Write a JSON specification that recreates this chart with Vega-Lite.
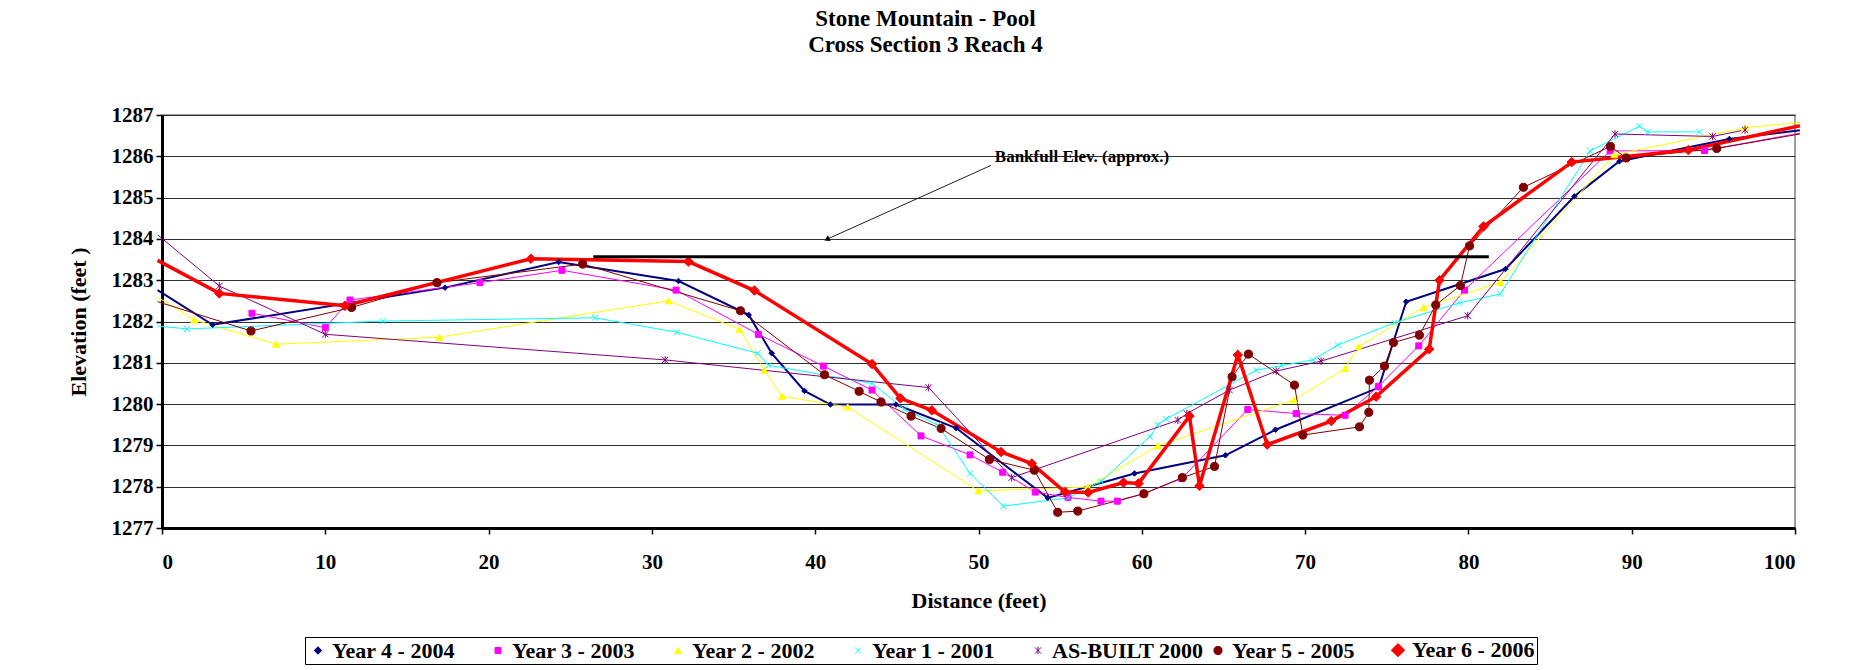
{
  "$schema": "https://vega.github.io/schema/vega-lite/v6.json",
  "autosize": "none",
  "width": 1633,
  "height": 413,
  "padding": {"left": 162, "top": 115, "right": 56, "bottom": 142},
  "background": "white",
  "title": {
    "text": ["Stone Mountain - Pool", "Cross Section 3 Reach 4"],
    "font": "Liberation Serif", "fontSize": 23, "fontWeight": "bold", "color": "black",
    "anchor": "middle", "frame": "group", "dx": -53, "offset": 47, "lineHeight": 26
  },
  "config": {
    "font": "Liberation Serif",
    "view": {"stroke": "#808080", "strokeWidth": 1.5},
    "axis": {
      "labelFont": "Liberation Serif", "labelFontWeight": "bold", "labelFontSize": 21, "labelColor": "black",
      "titleFont": "Liberation Serif", "titleFontWeight": "bold", "titleFontSize": 22, "titleColor": "black",
      "domainColor": "black", "domainWidth": 3, "tickColor": "black", "tickWidth": 1.5, "tickSize": 6
    }
  },
  "datasets": {
    "profiles": [
      {"series": "Year 4 - 2004", "x": -0.27, "y": 1282.76},
      {"series": "Year 4 - 2004", "x": 3.1, "y": 1281.92},
      {"series": "Year 4 - 2004", "x": 17.33, "y": 1282.82},
      {"series": "Year 4 - 2004", "x": 24.29, "y": 1283.44},
      {"series": "Year 4 - 2004", "x": 31.63, "y": 1282.98},
      {"series": "Year 4 - 2004", "x": 35.93, "y": 1282.16},
      {"series": "Year 4 - 2004", "x": 37.34, "y": 1281.23},
      {"series": "Year 4 - 2004", "x": 39.34, "y": 1280.32},
      {"series": "Year 4 - 2004", "x": 40.93, "y": 1279.99},
      {"series": "Year 4 - 2004", "x": 44.95, "y": 1279.99},
      {"series": "Year 4 - 2004", "x": 48.63, "y": 1279.42},
      {"series": "Year 4 - 2004", "x": 54.24, "y": 1277.73},
      {"series": "Year 4 - 2004", "x": 59.55, "y": 1278.32},
      {"series": "Year 4 - 2004", "x": 65.12, "y": 1278.76},
      {"series": "Year 4 - 2004", "x": 68.19, "y": 1279.38},
      {"series": "Year 4 - 2004", "x": 74.51, "y": 1280.4},
      {"series": "Year 4 - 2004", "x": 76.19, "y": 1282.48},
      {"series": "Year 4 - 2004", "x": 82.27, "y": 1283.27},
      {"series": "Year 4 - 2004", "x": 86.49, "y": 1285.03},
      {"series": "Year 4 - 2004", "x": 89.25, "y": 1285.88},
      {"series": "Year 4 - 2004", "x": 95.98, "y": 1286.42},
      {"series": "Year 4 - 2004", "x": 100.3, "y": 1286.63},

      {"series": "Year 3 - 2003", "x": 5.51, "y": 1282.2},
      {"series": "Year 3 - 2003", "x": 10.0, "y": 1281.85},
      {"series": "Year 3 - 2003", "x": 11.51, "y": 1282.52},
      {"series": "Year 3 - 2003", "x": 19.47, "y": 1282.94},
      {"series": "Year 3 - 2003", "x": 24.49, "y": 1283.24},
      {"series": "Year 3 - 2003", "x": 31.48, "y": 1282.76},
      {"series": "Year 3 - 2003", "x": 36.52, "y": 1281.69},
      {"series": "Year 3 - 2003", "x": 40.5, "y": 1280.92},
      {"series": "Year 3 - 2003", "x": 43.48, "y": 1280.34},
      {"series": "Year 3 - 2003", "x": 46.48, "y": 1279.23},
      {"series": "Year 3 - 2003", "x": 49.48, "y": 1278.77},
      {"series": "Year 3 - 2003", "x": 51.48, "y": 1278.35},
      {"series": "Year 3 - 2003", "x": 53.48, "y": 1277.87},
      {"series": "Year 3 - 2003", "x": 55.48, "y": 1277.74},
      {"series": "Year 3 - 2003", "x": 57.5, "y": 1277.65},
      {"series": "Year 3 - 2003", "x": 58.5, "y": 1277.65},
      {"series": "Year 3 - 2003", "x": 60.1, "y": 1277.83},
      {"series": "Year 3 - 2003", "x": 62.45, "y": 1278.2},
      {"series": "Year 3 - 2003", "x": 66.49, "y": 1279.87},
      {"series": "Year 3 - 2003", "x": 69.45, "y": 1279.77},
      {"series": "Year 3 - 2003", "x": 72.45, "y": 1279.73},
      {"series": "Year 3 - 2003", "x": 74.49, "y": 1280.43},
      {"series": "Year 3 - 2003", "x": 76.96, "y": 1281.41},
      {"series": "Year 3 - 2003", "x": 79.76, "y": 1282.76},
      {"series": "Year 3 - 2003", "x": 88.68, "y": 1286.13},
      {"series": "Year 3 - 2003", "x": 94.46, "y": 1286.14},
      {"series": "Year 3 - 2003", "x": 100.3, "y": 1286.56},

      {"series": "Year 2 - 2002", "x": -0.27, "y": 1282.59},
      {"series": "Year 2 - 2002", "x": 1.98, "y": 1282.04},
      {"series": "Year 2 - 2002", "x": 6.98, "y": 1281.45},
      {"series": "Year 2 - 2002", "x": 16.98, "y": 1281.62},
      {"series": "Year 2 - 2002", "x": 31.01, "y": 1282.5},
      {"series": "Year 2 - 2002", "x": 35.36, "y": 1281.81},
      {"series": "Year 2 - 2002", "x": 36.89, "y": 1280.82},
      {"series": "Year 2 - 2002", "x": 37.97, "y": 1280.19},
      {"series": "Year 2 - 2002", "x": 41.99, "y": 1279.93},
      {"series": "Year 2 - 2002", "x": 49.99, "y": 1277.9},
      {"series": "Year 2 - 2002", "x": 56.69, "y": 1277.99},
      {"series": "Year 2 - 2002", "x": 60.98, "y": 1278.99},
      {"series": "Year 2 - 2002", "x": 69.31, "y": 1280.1},
      {"series": "Year 2 - 2002", "x": 72.45, "y": 1280.86},
      {"series": "Year 2 - 2002", "x": 73.27, "y": 1281.39},
      {"series": "Year 2 - 2002", "x": 77.25, "y": 1282.34},
      {"series": "Year 2 - 2002", "x": 81.96, "y": 1282.95},
      {"series": "Year 2 - 2002", "x": 88.94, "y": 1286.04},
      {"series": "Year 2 - 2002", "x": 96.94, "y": 1286.69},
      {"series": "Year 2 - 2002", "x": 100.3, "y": 1286.82},

      {"series": "Year 1 -  2001", "x": -0.27, "y": 1281.89},
      {"series": "Year 1 -  2001", "x": 1.53, "y": 1281.82},
      {"series": "Year 1 -  2001", "x": 13.51, "y": 1282.01},
      {"series": "Year 1 -  2001", "x": 26.51, "y": 1282.09},
      {"series": "Year 1 -  2001", "x": 31.52, "y": 1281.74},
      {"series": "Year 1 -  2001", "x": 36.48, "y": 1281.23},
      {"series": "Year 1 -  2001", "x": 37.14, "y": 1280.94},
      {"series": "Year 1 -  2001", "x": 43.48, "y": 1280.5},
      {"series": "Year 1 -  2001", "x": 45.46, "y": 1279.88},
      {"series": "Year 1 -  2001", "x": 47.5, "y": 1279.49},
      {"series": "Year 1 -  2001", "x": 49.48, "y": 1278.32},
      {"series": "Year 1 -  2001", "x": 51.52, "y": 1277.53},
      {"series": "Year 1 -  2001", "x": 55.5, "y": 1277.73},
      {"series": "Year 1 -  2001", "x": 57.51, "y": 1278.13},
      {"series": "Year 1 -  2001", "x": 60.5, "y": 1279.21},
      {"series": "Year 1 -  2001", "x": 60.98, "y": 1279.5},
      {"series": "Year 1 -  2001", "x": 61.49, "y": 1279.64},
      {"series": "Year 1 -  2001", "x": 67.0, "y": 1280.82},
      {"series": "Year 1 -  2001", "x": 68.54, "y": 1280.93},
      {"series": "Year 1 -  2001", "x": 70.47, "y": 1281.07},
      {"series": "Year 1 -  2001", "x": 72.0, "y": 1281.43},
      {"series": "Year 1 -  2001", "x": 75.47, "y": 1281.97},
      {"series": "Year 1 -  2001", "x": 79.45, "y": 1282.45},
      {"series": "Year 1 -  2001", "x": 81.96, "y": 1282.67},
      {"series": "Year 1 -  2001", "x": 87.45, "y": 1286.13},
      {"series": "Year 1 -  2001", "x": 90.47, "y": 1286.73},
      {"series": "Year 1 -  2001", "x": 90.98, "y": 1286.59},
      {"series": "Year 1 -  2001", "x": 94.15, "y": 1286.59},

      {"series": "AS-BUILT 2000", "x": -0.27, "y": 1284.1},
      {"series": "AS-BUILT 2000", "x": 3.51, "y": 1282.86},
      {"series": "AS-BUILT 2000", "x": 10.0, "y": 1281.69},
      {"series": "AS-BUILT 2000", "x": 30.81, "y": 1281.07},
      {"series": "AS-BUILT 2000", "x": 46.95, "y": 1280.4},
      {"series": "AS-BUILT 2000", "x": 52.03, "y": 1278.22},
      {"series": "AS-BUILT 2000", "x": 62.21, "y": 1279.61},
      {"series": "AS-BUILT 2000", "x": 62.76, "y": 1279.77},
      {"series": "AS-BUILT 2000", "x": 65.37, "y": 1280.34},
      {"series": "AS-BUILT 2000", "x": 68.23, "y": 1280.8},
      {"series": "AS-BUILT 2000", "x": 70.98, "y": 1281.04},
      {"series": "AS-BUILT 2000", "x": 79.96, "y": 1282.14},
      {"series": "AS-BUILT 2000", "x": 88.98, "y": 1286.54},
      {"series": "AS-BUILT 2000", "x": 94.96, "y": 1286.48},
      {"series": "AS-BUILT 2000", "x": 96.94, "y": 1286.64},

      {"series": "Year 5 - 2005", "x": -0.27, "y": 1282.48},
      {"series": "Year 5 - 2005", "x": 5.45, "y": 1281.77},
      {"series": "Year 5 - 2005", "x": 11.61, "y": 1282.34},
      {"series": "Year 5 - 2005", "x": 16.84, "y": 1282.94},
      {"series": "Year 5 - 2005", "x": 25.76, "y": 1283.39},
      {"series": "Year 5 - 2005", "x": 35.42, "y": 1282.26},
      {"series": "Year 5 - 2005", "x": 40.57, "y": 1280.71},
      {"series": "Year 5 - 2005", "x": 42.69, "y": 1280.31},
      {"series": "Year 5 - 2005", "x": 44.03, "y": 1280.05},
      {"series": "Year 5 - 2005", "x": 45.87, "y": 1279.71},
      {"series": "Year 5 - 2005", "x": 47.71, "y": 1279.41},
      {"series": "Year 5 - 2005", "x": 50.67, "y": 1278.66},
      {"series": "Year 5 - 2005", "x": 53.42, "y": 1278.4},
      {"series": "Year 5 - 2005", "x": 54.85, "y": 1277.38},
      {"series": "Year 5 - 2005", "x": 56.08, "y": 1277.41},
      {"series": "Year 5 - 2005", "x": 60.13, "y": 1277.83},
      {"series": "Year 5 - 2005", "x": 62.49, "y": 1278.22},
      {"series": "Year 5 - 2005", "x": 64.45, "y": 1278.49},
      {"series": "Year 5 - 2005", "x": 65.53, "y": 1280.66},
      {"series": "Year 5 - 2005", "x": 66.53, "y": 1281.21},
      {"series": "Year 5 - 2005", "x": 69.35, "y": 1280.46},
      {"series": "Year 5 - 2005", "x": 69.86, "y": 1279.25},
      {"series": "Year 5 - 2005", "x": 73.33, "y": 1279.45},
      {"series": "Year 5 - 2005", "x": 73.9, "y": 1279.8},
      {"series": "Year 5 - 2005", "x": 73.94, "y": 1280.58},
      {"series": "Year 5 - 2005", "x": 74.86, "y": 1280.92},
      {"series": "Year 5 - 2005", "x": 75.41, "y": 1281.49},
      {"series": "Year 5 - 2005", "x": 77.0, "y": 1281.67},
      {"series": "Year 5 - 2005", "x": 78.0, "y": 1282.4},
      {"series": "Year 5 - 2005", "x": 79.51, "y": 1282.87},
      {"series": "Year 5 - 2005", "x": 80.07, "y": 1283.83},
      {"series": "Year 5 - 2005", "x": 83.37, "y": 1285.25},
      {"series": "Year 5 - 2005", "x": 88.7, "y": 1286.24},
      {"series": "Year 5 - 2005", "x": 89.66, "y": 1285.96},
      {"series": "Year 5 - 2005", "x": 95.21, "y": 1286.19},
      {"series": "Year 5 - 2005", "x": 100.3, "y": 1286.54},

      {"series": "Year 6 - 2006", "x": -0.27, "y": 1283.48},
      {"series": "Year 6 - 2006", "x": 3.51, "y": 1282.68},
      {"series": "Year 6 - 2006", "x": 11.2, "y": 1282.38},
      {"series": "Year 6 - 2006", "x": 22.59, "y": 1283.52},
      {"series": "Year 6 - 2006", "x": 32.24, "y": 1283.45},
      {"series": "Year 6 - 2006", "x": 36.28, "y": 1282.75},
      {"series": "Year 6 - 2006", "x": 43.48, "y": 1280.97},
      {"series": "Year 6 - 2006", "x": 45.22, "y": 1280.14},
      {"series": "Year 6 - 2006", "x": 47.14, "y": 1279.85},
      {"series": "Year 6 - 2006", "x": 51.38, "y": 1278.84},
      {"series": "Year 6 - 2006", "x": 53.26, "y": 1278.56},
      {"series": "Year 6 - 2006", "x": 55.3, "y": 1277.87},
      {"series": "Year 6 - 2006", "x": 56.72, "y": 1277.86},
      {"series": "Year 6 - 2006", "x": 58.88, "y": 1278.1},
      {"series": "Year 6 - 2006", "x": 59.8, "y": 1278.08},
      {"series": "Year 6 - 2006", "x": 62.92, "y": 1279.71},
      {"series": "Year 6 - 2006", "x": 63.53, "y": 1278.02},
      {"series": "Year 6 - 2006", "x": 65.88, "y": 1281.19},
      {"series": "Year 6 - 2006", "x": 67.68, "y": 1279.02},
      {"series": "Year 6 - 2006", "x": 71.6, "y": 1279.59},
      {"series": "Year 6 - 2006", "x": 74.35, "y": 1280.18},
      {"series": "Year 6 - 2006", "x": 77.6, "y": 1281.33},
      {"series": "Year 6 - 2006", "x": 78.23, "y": 1283.0},
      {"series": "Year 6 - 2006", "x": 80.92, "y": 1284.3},
      {"series": "Year 6 - 2006", "x": 86.33, "y": 1285.86},
      {"series": "Year 6 - 2006", "x": 93.47, "y": 1286.15},
      {"series": "Year 6 - 2006", "x": 100.3, "y": 1286.74}
    ],
    "bankfull": [{"x": 26.41, "x2": 81.25, "y": 1283.57}],
    "arrow": [{"x": 50.77, "y": 1285.78, "x2": 40.71, "y2": 1283.99}],
    "arrowhead": [{"x": 40.71, "y": 1283.99}],
    "note": [{"x": 51.0, "y": 1285.98, "text": "Bankfull Elev. (approx.)"}]
  },
  "encoding": {
    "x": {
      "field": "x", "type": "quantitative",
      "scale": {"domain": [0, 100], "nice": false, "zero": false},
      "axis": {"title": "Distance (feet)", "values": [0, 10, 20, 30, 40, 50, 60, 70, 80, 90, 100], "grid": false, "labelPadding": 17, "titlePadding": 18}
    },
    "y": {
      "field": "y", "type": "quantitative",
      "scale": {"domain": [1277, 1287], "nice": false, "zero": false},
      "axis": {"title": "Elevation (feet )", "values": [1277, 1278, 1279, 1280, 1281, 1282, 1283, 1284, 1285, 1286, 1287], "format": "d", "grid": true, "gridColor": "#303030", "gridWidth": 1, "labelPadding": 3, "titlePadding": 21}
    }
  },
  "layer": [
    {
      "data": {"name": "profiles"},
      "mark": {"type": "line"},
      "encoding": {
        "color": {
          "field": "series", "type": "nominal",
          "scale": {
            "domain": ["Year 4 - 2004", "Year 3 - 2003", "Year 2 - 2002", "Year 1 -  2001", "AS-BUILT 2000", "Year 5 - 2005", "Year 6 - 2006"],
            "range": ["#000080", "#FF00FF", "#FFFF00", "#00FFFF", "#800080", "#800000", "#FF0000"]
          },
          "legend": {
            "orient": "none", "legendX": 143, "legendY": 522, "direction": "horizontal", "title": null,
            "labelFont": "Liberation Serif", "labelFontWeight": "bold", "labelFontSize": 22, "labelColor": "black",
            "symbolSize": 360, "symbolStrokeWidth": 1, "strokeColor": "black", "fillColor": "white",
            "padding": 2, "columnPadding": 2, "labelOffset": 3, "gridAlign": "all",
            "encode": {
              "symbols": {
                "update": {
                  "shape": {"signal": "['M-1,-0.1L1,-0.1L1,0.1L-1,0.1ZM0,-0.32L0.32,0L0,0.32L-0.32,0Z','M-1,-0.06L1,-0.06L1,0.06L-1,0.06ZM-0.28,-0.28L0.28,-0.28L0.28,0.28L-0.28,0.28Z','M-1,-0.06L1,-0.06L1,0.06L-1,0.06ZM0,-0.35L0.35,0.28L-0.35,0.28Z','M-1,-0.06L1,-0.06L1,0.06L-1,0.06ZM-0.3,-0.3L0.3,0.3M-0.3,0.3L0.3,-0.3','M-1,-0.06L1,-0.06L1,0.06L-1,0.06ZM-0.3,-0.3L0.3,0.3M-0.3,0.3L0.3,-0.3M0,-0.4L0,0.4','M-1,-0.06L1,-0.06L1,0.06L-1,0.06ZM0.32,0A0.32,0.32,0,1,1,-0.32,0A0.32,0.32,0,1,1,0.32,0Z','M-1,-0.17L1,-0.17L1,0.17L-1,0.17ZM0,-0.45L0.45,0L0,0.45L-0.45,0Z'][indexof(['Year 4 - 2004','Year 3 - 2003','Year 2 - 2002','Year 1 -  2001','AS-BUILT 2000','Year 5 - 2005','Year 6 - 2006'], datum.value)]"},
                  "size": {"value": 360},
                  "fill": {"scale": "color", "field": "value"},
                  "fillOpacity": {"value": 1},
                  "stroke": {"scale": "color", "field": "value"},
                  "strokeOpacity": {"value": 1},
                  "strokeWidth": {"value": 1}
                }
              }
            }
          }
        },
        "strokeWidth": {
          "field": "series", "type": "nominal",
          "scale": {
            "type": "ordinal",
            "domain": ["Year 4 - 2004", "Year 3 - 2003", "Year 2 - 2002", "Year 1 -  2001", "AS-BUILT 2000", "Year 5 - 2005", "Year 6 - 2006"],
            "range": [2, 1, 1, 1, 1, 1, 3.5]
          },
          "legend": null
        }
      }
    },
    {
      "data": {"name": "profiles"},
      "transform": [{"filter": "datum.x >= 0 && datum.x <= 100"}],
      "mark": {"type": "point", "filled": true, "opacity": 1, "strokeWidth": 1},
      "encoding": {
        "fill": {
          "field": "series", "type": "nominal",
          "scale": {
            "domain": ["Year 4 - 2004", "Year 3 - 2003", "Year 2 - 2002", "Year 1 -  2001", "AS-BUILT 2000", "Year 5 - 2005", "Year 6 - 2006"],
            "range": ["#000080", "#FF00FF", "#FFFF00", "#00FFFF", "#800080", "#800000", "#FF0000"]
          },
          "legend": null
        },
        "stroke": {
          "field": "series", "type": "nominal",
          "scale": {
            "domain": ["Year 4 - 2004", "Year 3 - 2003", "Year 2 - 2002", "Year 1 -  2001", "AS-BUILT 2000", "Year 5 - 2005", "Year 6 - 2006"],
            "range": ["#000080", "#FF00FF", "#FFFF00", "#00FFFF", "#800080", "#800000", "#FF0000"]
          },
          "legend": null
        },
        "shape": {
          "field": "series", "type": "nominal",
          "scale": {
            "domain": ["Year 4 - 2004", "Year 3 - 2003", "Year 2 - 2002", "Year 1 -  2001", "AS-BUILT 2000", "Year 5 - 2005", "Year 6 - 2006"],
            "range": ["diamond", "square", "triangle-up", "M-1,-1L1,1M-1,1L1,-1", "M-1,-1L1,1M-1,1L1,-1M0,-1.2L0,1.2", "circle", "diamond"]
          },
          "legend": null
        },
        "size": {
          "field": "series", "type": "nominal",
          "scale": {
            "type": "ordinal",
            "domain": ["Year 4 - 2004", "Year 3 - 2003", "Year 2 - 2002", "Year 1 -  2001", "AS-BUILT 2000", "Year 5 - 2005", "Year 6 - 2006"],
            "range": [30, 36, 49, 36, 40, 66, 90]
          },
          "legend": null
        }
      }
    },
    {
      "data": {"name": "bankfull"},
      "mark": {"type": "rule", "color": "black", "strokeWidth": 3},
      "encoding": {"x2": {"field": "x2"}}
    },
    {
      "data": {"name": "arrow"},
      "mark": {"type": "rule", "color": "#222222", "strokeWidth": 1},
      "encoding": {"x2": {"field": "x2"}, "y2": {"field": "y2"}}
    },
    {
      "data": {"name": "arrowhead"},
      "mark": {"type": "point", "shape": "triangle-up", "filled": true, "color": "black", "opacity": 1, "size": 40, "angle": 246},
      "encoding": {}
    },
    {
      "data": {"name": "note"},
      "mark": {"type": "text", "align": "left", "baseline": "middle", "font": "Liberation Serif", "fontWeight": "bold", "fontSize": 17, "color": "black"},
      "encoding": {"text": {"field": "text"}}
    }
  ]
}
